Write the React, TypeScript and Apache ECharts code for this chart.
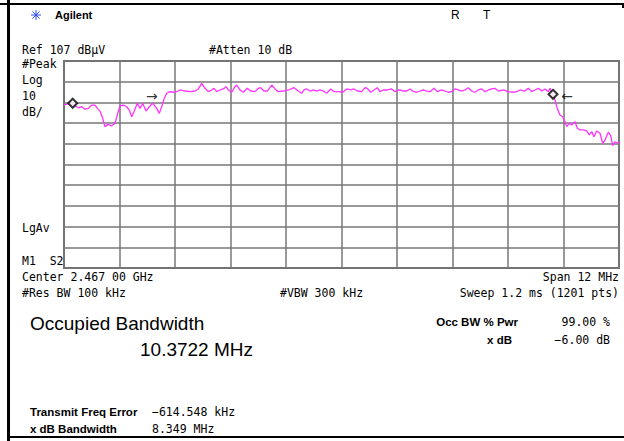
import React, { useEffect, useRef } from "react";
import * as echarts from "echarts";

// Trace: frequency (MHz) and level (dBµV)
const freqMHz = [
  2461.000, 2461.130, 2461.238, 2461.309, 2461.383, 2461.454, 2461.525, 2461.599, 2461.670, 2461.720,
  2461.778, 2461.837, 2461.886, 2461.958, 2462.031, 2462.103, 2462.152, 2462.211, 2462.282, 2462.356,
  2462.412, 2462.464, 2462.514, 2462.585, 2462.643, 2462.702, 2462.773, 2462.844, 2462.918, 2463.004,
  2463.061, 2463.112, 2463.162, 2463.221, 2463.292, 2463.363, 2463.471, 2463.508, 2463.616, 2463.724,
  2463.832, 2463.904, 2463.977, 2464.049, 2464.120, 2464.194, 2464.243, 2464.302, 2464.373, 2464.444,
  2464.503, 2464.553, 2464.626, 2464.697, 2464.734, 2464.805, 2464.877, 2464.963, 2465.037, 2465.130,
  2465.201, 2465.253, 2465.324, 2465.396, 2465.491, 2465.562, 2465.634, 2465.742, 2465.850, 2465.973,
  2466.066, 2466.139, 2466.189, 2466.248, 2466.319, 2466.390, 2466.464, 2466.535, 2466.607, 2466.680,
  2466.767, 2466.838, 2466.931, 2467.026, 2467.112, 2467.199, 2467.270, 2467.342, 2467.437, 2467.508,
  2467.558, 2467.631, 2467.703, 2467.774, 2467.833, 2467.904, 2467.990, 2468.086, 2468.157, 2468.228,
  2468.265, 2468.336, 2468.410, 2468.481, 2468.540, 2468.626, 2468.697, 2468.769, 2468.842, 2468.914,
  2469.000, 2469.071, 2469.167, 2469.238, 2469.309, 2469.383, 2469.454, 2469.525, 2469.599, 2469.670,
  2469.741, 2469.815, 2469.886, 2469.958, 2470.031, 2470.103, 2470.174, 2470.248, 2470.319, 2470.390,
  2470.499, 2470.607, 2470.715, 2470.788, 2470.860, 2470.968, 2471.039, 2471.112, 2471.184, 2471.255,
  2471.329, 2471.400, 2471.471, 2471.508, 2471.566, 2471.616, 2471.666, 2471.724, 2471.783, 2471.832,
  2471.869, 2471.925, 2471.977, 2472.049, 2472.099, 2472.157, 2472.228, 2472.302, 2472.358, 2472.410,
  2472.459, 2472.518, 2472.589, 2472.648, 2472.697, 2472.769, 2472.821, 2472.864, 2472.914, 2472.985,
  2473.000,
];
const levelDbuV = [
  85.7, 86.6, 85.4, 84.4, 84.9, 83.7, 84.1, 85.7, 85.7, 84.1,
  82.8, 79.3, 75.3, 76.4, 75.7, 76.9, 80.9, 85.4, 85.7, 84.9,
  83.3, 80.1, 82.5, 86.6, 84.1, 86.6, 82.8, 84.9, 86.6, 84.1,
  81.7, 84.9, 88.6, 91.4, 92.2, 91.9, 92.5, 93.0, 92.5, 92.2,
  92.5, 93.5, 96.2, 93.8, 92.2, 93.0, 93.8, 92.2, 93.0, 93.5,
  94.6, 93.0, 91.9, 94.6, 95.4, 93.0, 91.9, 93.8, 92.5, 92.2,
  93.8, 94.1, 92.5, 92.5, 95.4, 93.5, 92.2, 92.5, 93.0, 94.1,
  92.5, 91.4, 93.0, 93.5, 92.5, 93.0, 92.5, 93.0, 92.5, 91.4,
  93.5, 92.2, 92.2, 91.9, 93.5, 93.0, 93.5, 92.5, 92.2, 94.1,
  93.8, 91.9, 93.0, 94.1, 92.2, 93.0, 93.0, 93.5, 92.2, 93.0,
  93.0, 92.5, 92.5, 93.5, 92.5, 91.9, 92.5, 93.0, 92.5, 92.2,
  93.8, 92.2, 93.0, 92.5, 91.9, 92.2, 93.5, 93.0, 92.5, 93.0,
  94.1, 92.5, 91.9, 93.0, 93.5, 92.2, 93.0, 93.5, 93.8, 92.5,
  93.0, 92.2, 91.9, 92.2, 93.0, 92.5, 93.8, 92.2, 93.0, 93.8,
  92.5, 93.5, 92.2, 93.8, 90.9, 88.2, 84.1, 80.9, 80.1, 77.7,
  75.3, 76.9, 76.1, 77.7, 74.5, 73.7, 73.7, 73.2, 71.3, 72.9,
  70.4, 73.2, 72.1, 67.2, 68.8, 72.6, 70.9, 66.1, 68.0, 67.2,
  68.0,
];

// Occupied-bandwidth markers (diamonds) and edge arrows
const markerFreqMHz = [2461.188, 2471.573];
const markerLevel = [86.6, 90.9];
const arrowFreqMHz = [2462.9, 2471.876];
const arrowLevel = [90.3, 90.3];
const arrowGlyphs = ["→", "←"];

// Screen scale
const refLevelDbuV = 107;
const dbPerDiv = 10;
const divisions = 10;
const startMHz = 2461;
const stopMHz = 2473;

const MONO = "'DejaVu Sans Mono', 'Liberation Mono', monospace";
const SANS = "'Liberation Sans', Arial, sans-serif";

function txt(x: number, y: number, text: string, opts: any = {}) {
  return {
    type: "text",
    x,
    y,
    silent: true,
    style: {
      text,
      fill: opts.fill || "#000",
      font: opts.font || `11.5px ${MONO}`,
      textAlign: opts.align || "left",
      textVerticalAlign: "middle",
    },
  };
}

export default function App() {
  const ref = useRef<HTMLDivElement>(null);
  useEffect(() => {
    if (!ref.current) return;
    const chart = echarts.init(ref.current, null, { renderer: "svg" });
    const trace = freqMHz.map((f, i) => [f, levelDbuV[i]]);
    const markers = markerFreqMHz.map((f, i) => [f, markerLevel[i]]);
    const arrows = arrowFreqMHz.map((f, i) => ({ value: [f, arrowLevel[i]], glyph: arrowGlyphs[i] }));

    const star: any[] = [];
    for (let k = 0; k < 8; k++) {
      const a = (k * Math.PI) / 4;
      star.push({
        type: "line",
        silent: true,
        shape: { x1: 36, y1: 15, x2: 36 + Math.cos(a) * 5, y2: 15 + Math.sin(a) * 5 },
        style: { stroke: "#2a4dff", lineWidth: 1 },
      });
    }

    const gridLine = { show: true, lineStyle: { color: "#777777", width: 1.5 } };
    const BOLD = `bold 11.5px ${SANS}`;

    chart.setOption({
      animation: false,
      backgroundColor: "#ffffff",
      grid: {
        left: 64,
        top: 61,
        width: 555,
        height: 207,
        show: true,
        borderColor: "#6e6e6e",
        borderWidth: 2,
        backgroundColor: "transparent",
      },
      xAxis: [
        { type: "value", min: startMHz, max: stopMHz, show: false },
        {
          type: "value", min: 0, max: divisions, interval: 1,
          axisLabel: { show: false }, axisTick: { show: false }, axisLine: { show: false },
          splitLine: gridLine,
        },
      ],
      yAxis: [
        { type: "value", min: refLevelDbuV - dbPerDiv * divisions, max: refLevelDbuV, show: false },
        {
          type: "value", min: 0, max: divisions, interval: 1,
          axisLabel: { show: false }, axisTick: { show: false }, axisLine: { show: false },
          splitLine: gridLine,
        },
      ],
      series: [
        {
          type: "line",
          xAxisIndex: 0,
          yAxisIndex: 0,
          data: trace,
          showSymbol: false,
          symbol: "none",
          lineStyle: { color: "#ff33ff", width: 1.3 },
          z: 3,
        },
        {
          type: "scatter",
          xAxisIndex: 0,
          yAxisIndex: 0,
          data: markers,
          symbol: "diamond",
          symbolSize: [9, 9],
          itemStyle: { color: "#ffffff", borderColor: "#000000", borderWidth: 2 },
          z: 5,
        },
        {
          type: "scatter",
          xAxisIndex: 0,
          yAxisIndex: 0,
          data: arrows,
          symbolSize: 1,
          itemStyle: { color: "transparent" },
          label: {
            show: true,
            position: "inside",
            formatter: (p: any) => p.data.glyph,
            color: "#000",
            fontSize: 14,
            fontFamily: "'DejaVu Sans', sans-serif",
          },
          z: 5,
        },
      ],
      graphic: [
        // frame
        { type: "rect", silent: true, shape: { x: 7, y: 0, width: 3, height: 441 }, style: { fill: "#000" } },
        { type: "rect", silent: true, shape: { x: 0, y: 3, width: 624, height: 2 }, style: { fill: "#000" } },
        { type: "rect", silent: true, shape: { x: 622, y: 3, width: 2, height: 5 }, style: { fill: "#000" } },
        { type: "rect", silent: true, shape: { x: 8, y: 436, width: 616, height: 2 }, style: { fill: "#000" } },
        ...star,
        txt(55, 15, "Agilent", { font: `bold 11px ${SANS}` }),
        txt(451, 15, "R", { font: `12px ${SANS}` }),
        txt(483, 15, "T", { font: `12px ${SANS}` }),
        txt(22, 50, "Ref 107 dBμV"),
        txt(209, 50, "#Atten 10 dB"),
        txt(22, 64, "#Peak"),
        txt(22, 80, "Log"),
        txt(22, 96, "10"),
        txt(22, 112, "dB/"),
        txt(22, 228, "LgAv"),
        txt(22, 261, "M1  S2"),
        txt(22, 277, "Center 2.467 00 GHz"),
        txt(619, 277, "Span 12 MHz", { align: "right" }),
        txt(22, 293, "#Res BW 100 kHz"),
        txt(280, 293, "#VBW 300 kHz"),
        txt(619, 293, "Sweep 1.2 ms (1201 pts)", { align: "right" }),
        txt(30, 323, "Occupied Bandwidth", { font: `19px ${SANS}` }),
        txt(140, 349, "10.3722 MHz", { font: `19px ${SANS}` }),
        txt(518, 322, "Occ BW % Pwr", { font: BOLD, align: "right" }),
        txt(610, 322, "99.00 %", { align: "right" }),
        txt(512, 340, "x dB", { font: BOLD, align: "right" }),
        txt(610, 340, "−6.00 dB", { align: "right" }),
        txt(30, 412, "Transmit Freq Error", { font: BOLD }),
        txt(152, 412, "−614.548 kHz"),
        txt(30, 429, "x dB Bandwidth", { font: BOLD }),
        txt(152, 429, "8.349 MHz"),
      ],
    });
    return () => chart.dispose();
  }, []);
  return (
    <div
      ref={ref}
      style={{ position: "fixed", left: 0, top: 0, width: 624, height: 441, background: "#fff" }}
    />
  );
}
